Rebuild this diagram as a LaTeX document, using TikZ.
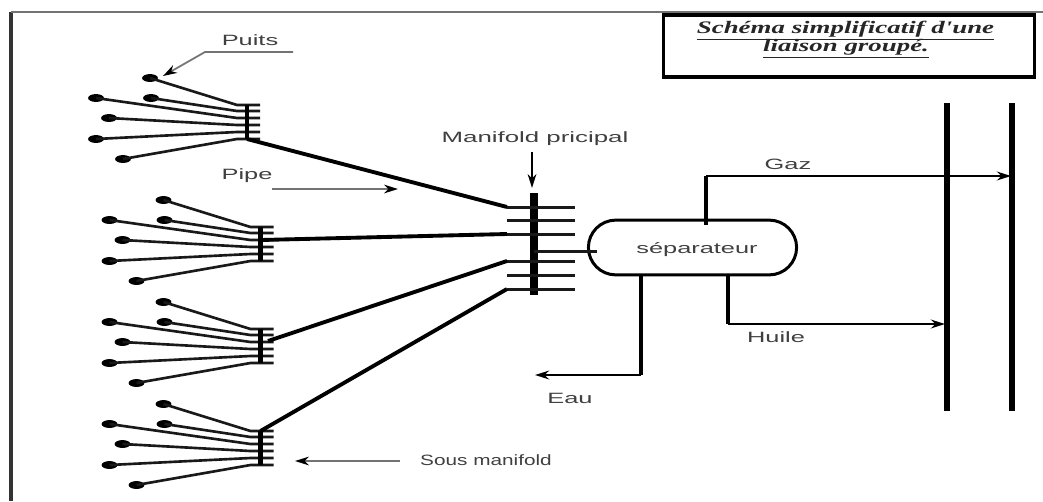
\documentclass[tikz,border=0pt]{standalone}
\usepackage{fontspec}
\setmainfont{Liberation Sans}
\newfontfamily\titlefont{Liberation Serif}
\usepackage{tikz}
\usetikzlibrary{shapes.misc,shapes.geometric,arrows.meta}
\newcommand{\widetext}[2][1.7]{\scalebox{#1}[1]{#2}}
\tikzset{
  pipe/.style={line width=1.5pt, black!90},
  trunk/.style={line width=2.2pt, black},
  riser/.style={line width=2.5pt, black},
  flow/.style={line width=1.6pt, black, -{Stealth[length=8pt,width=5pt]}},
  header/.style={line width=2.8pt, black},
  leader/.style={line width=1pt, black!55, -{Stealth[black,length=8pt,width=5pt]}},
  well/.style={ellipse, fill=black, minimum width=9pt, minimum height=4.5pt, inner sep=0pt},
  lbl/.style={font=\fontsize{8.5}{10}\selectfont, text=black!75},
  titleline/.style={font=\titlefont\bfseries\itshape\fontsize{10}{12}\selectfont, anchor=base, text=black!85, inner sep=0pt},
}
\begin{document}
\begin{tikzpicture}[x=0.02cm, y=-0.02cm, >=stealth]
  \useasboundingbox (0,0) rectangle (1043,501);
  \fill[white] (0,0) rectangle (1043,501);
  % page frame
  \coordinate (frameA) at (11,501);
  \coordinate (frameB) at (11,12);
  \coordinate (frameC) at (1043,12);
  \draw[line width=1.8pt, black!80] (frameA) -- (frameB);
  \draw[line width=1.5pt, black!55] (frameB) -- (frameC);

  % title
  \node[draw, line width=2pt, minimum width=372*0.567pt, minimum height=62*0.567pt] (titlebox) at (849,46) {};
  \node[titleline] (titleA) at (845.5,33) {\widetext[1.53]{\underline{Schéma simplificatif d'une}}};
  \node[titleline] (titleB) at (846,51) {\widetext[1.53]{\underline{liaison groupé.}}};

  % the four groups of wells
  \foreach \id/\dx/\dy in {a/0/0, b/13.5/122, c/13.5/224, d/13.5/326} {
    \begin{scope}[shift={(\dx,\dy)}]
      \coordinate (barT\id) at (247,105);
      \coordinate (barB\id) at (247,139);
      \foreach \n/\wx/\wy/\sy in {1/150/78/105, 2/151/98/111, 3/96/98/118, 4/109/118/125, 5/96/139/132, 6/123/159/139} {
        \node[well] (w\id\n) at (\wx,\wy) {};
        \coordinate (k\id\n) at (237,\sy);
        \coordinate (e\id\n) at (260,\sy);
        \draw[pipe] (w\id\n.center) -- (k\id\n) -- (e\id\n);
      }
      \draw[header] (barT\id) -- (barB\id);
    \end{scope}
  }

  % main manifold
  \coordinate (mT) at (534,193);
  \coordinate (mB) at (534,295);
  \draw[header, line width=4.2pt] (mT) -- (mB);
  \foreach \n/\sy in {1/207, 2/220, 3/234, 5/261, 6/275, 7/289} {
    \coordinate (mL\n) at (507,\sy);
    \coordinate (mR\n) at (575,\sy);
    \draw[pipe, line width=1.7pt] (mL\n) -- (mR\n);
  }
  \draw[trunk] (barBa) -- (mL1);
  \coordinate (bOut) at (261,240);
  \draw[trunk] (bOut) -- (mL3);
  \coordinate (cOut) at (268,341);
  \draw[trunk] (cOut) -- (mL5);
  \draw[trunk] (barTd) -- (mL7);

  % separator and outlets
  \node[draw, rounded rectangle, line width=1.7pt, minimum width=209*0.567pt, minimum height=55*0.567pt, inner sep=0pt] (sep) at (692.5,247.5) {};
  \node[lbl] (septxt) at (697,250) {\widetext{séparateur}};
  \coordinate (mC) at (534,251);
  \coordinate (sepIn) at (597,251);
  \draw[pipe, line width=1.7pt] (mC) -- (sepIn);

  \coordinate (busL) at (947,103);
  \coordinate (busLb) at (947,411);
  \coordinate (busR) at (1012,103);
  \coordinate (busRb) at (1012,411);
  \draw[header, line width=3.2pt] (busL) -- (busLb);
  \draw[header, line width=3.2pt] (busR) -- (busRb);

  \coordinate (gazA) at (706,225);
  \coordinate (gazB) at (706,176);
  \coordinate (gazC) at (1011,176);
  \draw[riser] (gazA) -- (gazB);
  \draw[flow] (gazB) -- (gazC);
  \coordinate (huiA) at (728,275);
  \coordinate (huiB) at (728,324);
  \coordinate (huiC) at (945,324);
  \draw[riser] (huiA) -- (huiB);
  \draw[flow] (huiB) -- (huiC);
  \coordinate (eauA) at (641,275);
  \coordinate (eauB) at (641,375);
  \coordinate (eauC) at (535,375);
  \draw[riser] (eauA) -- (eauB);
  \draw[flow] (eauB) -- (eauC);

  % labels
  \node[lbl] (gaz) at (788,164) {\widetext{Gaz}};
  \node[lbl] (huile) at (776,337) {\widetext{Huile}};
  \node[lbl] (eau) at (570,398) {\widetext{Eau}};
  \node[lbl] (manif) at (535,139) {\widetext[1.73]{Manifold pricipal}};
  \node[lbl] (pipetxt) at (247,176) {\widetext{Pipe}};
  \node[lbl] (sous) at (486,460) {\widetext[1.39]{Sous manifold}};
  \node[lbl] (puits) at (250,40) {\widetext{Puits}};

  % leaders
  \coordinate (puA) at (293,52);
  \coordinate (puB) at (205,52);
  \coordinate (puC) at (163,76);
  \draw[leader] (puA) -- (puB) -- (puC);
  \coordinate (piA) at (272,189);
  \coordinate (piB) at (398,189);
  \draw[leader] (piA) -- (piB);
  \coordinate (maA) at (532,152);
  \coordinate (maB) at (532,188);
  \draw[leader, black] (maA) -- (maB);
  \coordinate (soA) at (400,461);
  \coordinate (soB) at (295,461);
  \draw[leader] (soA) -- (soB);
\end{tikzpicture}
\end{document}
